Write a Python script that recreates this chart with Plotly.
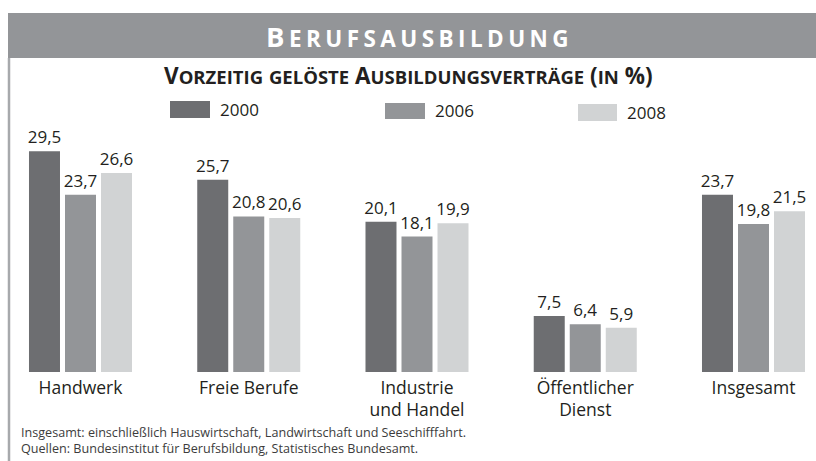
import plotly.graph_objects as go

# ---- data ----
categories = ["Handwerk", "Freie Berufe", "Industrie<br>und Handel", "Öffentlicher<br>Dienst", "Insgesamt"]
years = ["2000", "2006", "2008"]
values_2000 = [29.5, 25.7, 20.1, 7.5, 23.7]
values_2006 = [23.7, 20.8, 18.1, 6.4, 19.8]
values_2008 = [26.6, 20.6, 19.9, 5.9, 21.5]
series = [values_2000, values_2006, values_2008]
colors = ["#6d6e71", "#939598", "#d1d3d4"]
title = "Berufsausbildung"
subtitle = "Vorzeitig gelöste Ausbildungsverträge (in %)"
footnotes = [
    "Insgesamt: einschließlich Hauswirtschaft, Landwirtschaft und Seeschifffahrt.",
    "Quellen: Bundesinstitut für Berufsbildung, Statistisches Bundesamt.",
]

# ---- geometry helpers ----
W, H = 816, 461
T, B = 120, 89
PH = H - T - B
FONT = "Open Sans"
DARK = "#231f20"


def px(x):
    return x / W


def py(y):
    return (H - B - y) / PH


def smallcaps(text, big, small, track=0):
    out = []
    for i, ch in enumerate(text):
        if ch.isalpha() and ch.islower():
            out.append(f'<span style="font-size:{small}px">{ch.upper()}</span>')
        else:
            out.append(f'<span style="font-size:{big}px">{ch}</span>')
        if track and i < len(text) - 1:
            out.append(f'<span style="font-size:{track}px"> </span>')
    return "".join(out)


fig = go.Figure()
for name, vals, col in zip(years, series, colors):
    fig.add_trace(go.Bar(
        x=categories, y=vals, name=name,
        marker=dict(color=col, line=dict(width=0)),
        texttemplate="%{y:.1f}", textposition="outside",
        textfont=dict(family=FONT, size=17, color=DARK),
        constraintext="none", cliponaxis=False,
    ))

shapes = [
    # title banner
    dict(type="rect", xref="paper", yref="paper", x0=px(8), x1=1.0, y0=py(58), y1=py(13),
         fillcolor="#939598", line=dict(width=0), layer="below"),
    # left frame line
    dict(type="line", xref="paper", yref="paper", x0=px(9), x1=px(9), y0=py(58), y1=py(H),
         line=dict(color="#a7a9ac", width=2.5)),
]
annotations = [
    dict(text=smallcaps(title, 27.5, 22.5, track=17), xref="paper", yref="paper",
         x=px(418), y=py(36), showarrow=False, xanchor="center", yanchor="middle",
         font=dict(family=FONT, color="white", weight="bold")),
    dict(text=smallcaps(subtitle, 22.5, 18.5), xref="paper", yref="paper",
         x=px(408), y=py(76), showarrow=False, xanchor="center", yanchor="middle",
         font=dict(family=FONT, color=DARK, weight="bold")),
]

legend_boxes = [(170, 101, 210, 118), (385, 103, 425, 119), (578, 104, 617, 121)]
for (x0, y0, x1, y1), name, col in zip(legend_boxes, years, colors):
    shapes.append(dict(type="rect", xref="paper", yref="paper", x0=px(x0), x1=px(x1),
                       y0=py(y1), y1=py(y0), fillcolor=col, line=dict(width=0)))
    annotations.append(dict(text=name, xref="paper", yref="paper", x=px(x1 + 8), y=py((y0 + y1) / 2),
                            showarrow=False, xanchor="left", yanchor="middle",
                            font=dict(family=FONT, size=17, color=DARK)))

annotations.append(dict(text="<br>".join(footnotes), xref="paper", yref="paper", x=px(19), y=py(440),
                        showarrow=False, xanchor="left", yanchor="middle", align="left",
                        font=dict(family=FONT, size=12.6, color="#3c3c3c")))

x_center0, x_step = 80.5, 168.25
fig.update_layout(
    width=W, height=H,
    margin=dict(l=0, r=0, t=T, b=B, pad=0),
    paper_bgcolor="white", plot_bgcolor="white",
    barmode="group", bargap=0.358, bargroupgap=0.139,
    separators=", ",
    showlegend=False,
    shapes=shapes, annotations=annotations,
    font=dict(family=FONT, color=DARK),
    xaxis=dict(range=[-x_center0 / x_step, (W - x_center0) / x_step], showgrid=False,
               showline=False, ticks="", zeroline=False,
               tickfont=dict(family=FONT, size=17.5, color=DARK), ticklabelstandoff=3),
    yaxis=dict(range=[0, PH / 7.48], visible=False, showgrid=False, zeroline=False),
)

fig.write_html(
    "out.html",
    config={"displayModeBar": False},
    post_script="document.body.style.margin='0';document.body.style.overflow='hidden';",
)
